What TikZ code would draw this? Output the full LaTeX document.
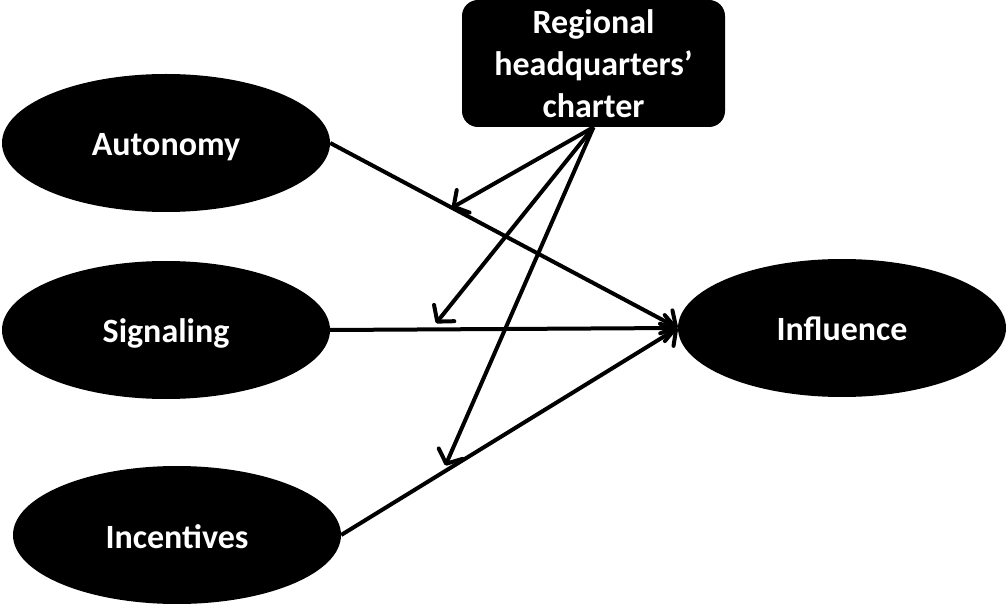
\documentclass[tikz,border=0pt]{standalone}
\usepackage{fontspec}
\setmainfont{Carlito}
\usetikzlibrary{shapes.geometric,arrows.meta,calc}

\begin{document}
\begin{tikzpicture}[x=1pt,y=1pt,
   oval/.style={ellipse,fill=black,text=white,minimum width=328pt,minimum height=138pt,
     inner sep=0pt,text height=30pt,text depth=4pt,font=\fontsize{34}{42}\selectfont\bfseries},
   charterbox/.style={rectangle,rounded corners=16pt,fill=black,text=white,
     minimum width=263pt,minimum height=127pt,inner sep=0pt,align=center,
     font=\fontsize{34}{42}\selectfont\bfseries},
   arr/.style={line width=4pt,-{Straight Barb[length=11pt,width=26pt,round]}}]
   \useasboundingbox (0,0) rectangle (1006,603);
   % constructs
   \node[oval] (aut)  at (166,460) {Autonomy};
   \node[oval] (sig)  at (166,273) {Signaling};
   \node[oval] (inc)  at (177,68)  {Incentives};
   \node[oval] (infl) at (842,275) {Influence};
   \node[charterbox] (chart) at (593.5,539.5) {Regional\\headquarters’\\charter};
   % main effects
   \draw[arr] (aut.east) -- (infl.west);
   \draw[arr] (sig.east) -- (infl.west);
   \draw[arr] (inc.east) -- (infl.west);
   % moderation
   \coordinate (m1) at ($(aut.east)!0.35!(infl.west)$);
   \coordinate (m2) at ($(sig.east)!0.29!(infl.west)$);
   \coordinate (m3) at ($(inc.east)!0.30!(infl.west)$);
   \draw[arr] (chart.south) -- (m1);
   \draw[arr,shorten >=8pt] (chart.south) -- (m2);
   \draw[arr,shorten >=8pt] (chart.south) -- (m3);
\end{tikzpicture}
\end{document}
